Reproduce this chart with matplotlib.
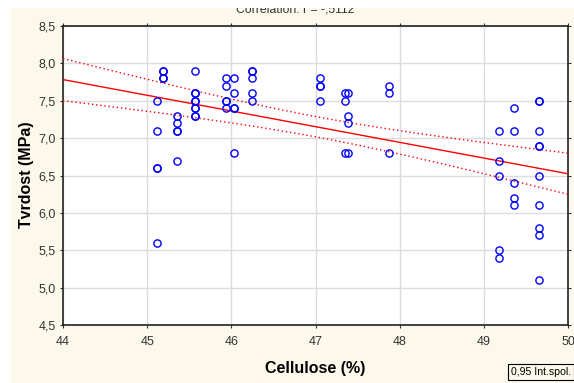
import numpy as np
import matplotlib
matplotlib.use("Agg")
import matplotlib.pyplot as plt
from matplotlib.patches import Rectangle
from matplotlib.ticker import FuncFormatter

plt.rcParams['font.family'] = ['Liberation Sans', 'DejaVu Sans']

# Data: (cellulose %, hardness MPa)
x45_12 = [45.12] * 5; y45_12 = [7.5, 7.1, 6.6, 6.6, 5.6]
x45_19 = [45.19] * 4; y45_19 = [7.9, 7.9, 7.8, 7.8]
x45_35 = [45.35] * 5; y45_35 = [7.3, 7.2, 7.1, 7.1, 6.7]
x45_57 = [45.57] * 9; y45_57 = [7.9, 7.6, 7.6, 7.5, 7.5, 7.4, 7.4, 7.3, 7.3]
x45_94 = [45.94] * 5; y45_94 = [7.8, 7.7, 7.5, 7.5, 7.4]
x46_03 = [46.03] * 5; y46_03 = [7.8, 7.6, 7.4, 7.4, 6.8]
x46_24 = [46.24] * 5; y46_24 = [7.9, 7.9, 7.8, 7.6, 7.5]
x47_05 = [47.05] * 4; y47_05 = [7.8, 7.7, 7.7, 7.5]
x47_35 = [47.35] * 3; y47_35 = [7.6, 7.5, 6.8]
x47_39 = [47.39] * 4; y47_39 = [7.6, 7.3, 7.2, 6.8]
x47_87 = [47.87] * 3; y47_87 = [7.7, 7.6, 6.8]
x49_18 = [49.18] * 5; y49_18 = [7.1, 6.7, 6.5, 5.5, 5.4]
x49_36 = [49.36] * 5; y49_36 = [7.4, 7.1, 6.4, 6.2, 6.1]
x49_66 = [49.66] * 10; y49_66 = [7.5, 7.5, 7.1, 6.9, 6.9, 6.5, 6.1, 5.8, 5.7, 5.1]

xs = np.array(x45_12 + x45_19 + x45_35 + x45_57 + x45_94 + x46_03 + x46_24 +
              x47_05 + x47_35 + x47_39 + x47_87 + x49_18 + x49_36 + x49_66)
ys = np.array(y45_12 + y45_19 + y45_35 + y45_57 + y45_94 + y46_03 + y46_24 +
              y47_05 + y47_35 + y47_39 + y47_87 + y49_18 + y49_36 + y49_66)

xticks = [44, 45, 46, 47, 48, 49, 50]
yticks = [4.5, 5.0, 5.5, 6.0, 6.5, 7.0, 7.5, 8.0, 8.5]
title_text = "Correlation: r = -,5112"
xlabel = "Cellulose (%)"
ylabel = "Tvrdost (MPa)"
legend_text = "0,95 Int.spol."

cream = '#fdf8ec'
W, H = 574, 383
fig = plt.figure(figsize=(W / 100, H / 100), dpi=100, facecolor=cream)

ax = fig.add_axes([63 / W, 1 - 325 / H, (568 - 63) / W, (325 - 26) / H])
ax.set_facecolor('white')

# regression and 95% confidence band
n = len(xs)
b, a = np.polyfit(xs, ys, 1)
xx = np.linspace(44, 50, 200)
yy = a + b * xx
resid = ys - (a + b * xs)
s = np.sqrt(np.sum(resid ** 2) / (n - 2))
tval = 1.997
se = s * np.sqrt(1 / n + (xx - xs.mean()) ** 2 / np.sum((xs - xs.mean()) ** 2))
ax.plot(xx, yy, color='red', lw=1.0, zorder=3)
ax.plot(xx, yy + tval * se, color='red', lw=1.0, ls=(0, (1, 2)), zorder=3)
ax.plot(xx, yy - tval * se, color='red', lw=1.0, ls=(0, (1, 2)), zorder=3)

ax.plot(xs, ys, 'o', mfc='none', mec='#0000ff', mew=1.0, ms=5.2, zorder=4, clip_on=False)

ax.set_xlim(44, 50)
ax.set_ylim(4.5, 8.5)
ax.set_xticks(xticks)
ax.set_yticks(yticks)
ax.yaxis.set_major_formatter(FuncFormatter(lambda v, p: f"{v:.1f}".replace('.', ',')))
ax.xaxis.set_major_formatter(FuncFormatter(lambda v, p: f"{int(round(v))}"))
ax.grid(True, color='#dcdcdc', lw=1.0, zorder=0)
ax.set_axisbelow(True)
ax.tick_params(axis='both', labelsize=9, labelcolor='#333333', color='#333333')
ax.tick_params(axis='x', direction='out', length=2, pad=6, top=True)
ax.tick_params(axis='y', direction='out', length=2, pad=3, right=True)
for sp in ax.spines.values():
    sp.set_color('#222222')
    sp.set_linewidth(1.2)

fig.text(27 / W, 1 - 175 / H, ylabel, rotation=90, ha='center', va='center',
         fontsize=11.5, fontweight='bold', color='black')
fig.text(315 / W, 1 - 368 / H, xlabel, ha='center', va='center',
         fontsize=11.5, fontweight='bold', color='black')
fig.text(295 / W, 1 - 13 / H, title_text, ha='center', va='baseline',
         fontsize=8.8, color='#333333', zorder=2)
# white outer border (clips the title top like the original)
fig.patches.append(Rectangle((0, 1 - 8 / H), 1, 8 / H, transform=fig.transFigure,
                             facecolor='white', edgecolor='none', zorder=5))
fig.patches.append(Rectangle((0, 0), 10 / W, 1, transform=fig.transFigure,
                             facecolor='white', edgecolor='none', zorder=5))
fig.text(511 / W, 1 - 372 / H, legend_text, ha='left', va='center', fontsize=7.6,
         color='black',
         bbox=dict(boxstyle='square,pad=0.3', facecolor=cream, edgecolor='black', lw=0.8))

fig.savefig('out.png', dpi=100, facecolor=fig.get_facecolor())
